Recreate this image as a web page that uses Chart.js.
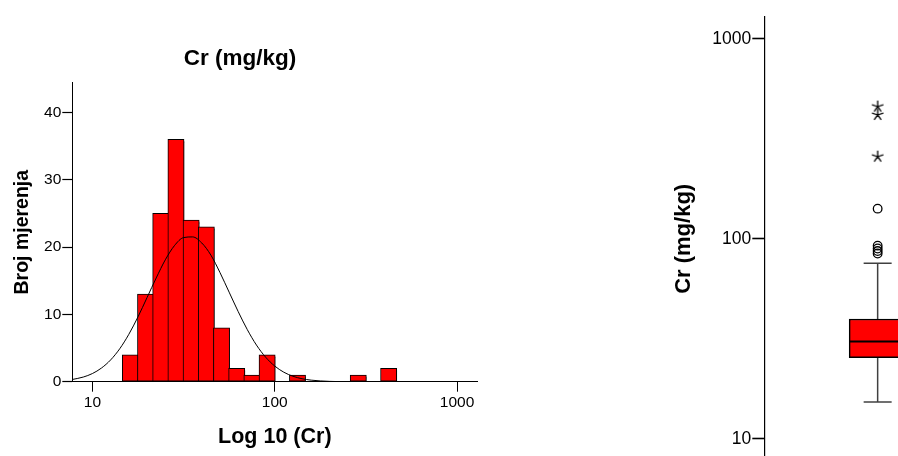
<!DOCTYPE html>
<html>
<head>
<meta charset="utf-8">
<script src="https://cdn.jsdelivr.net/npm/chart.js@4/dist/chart.umd.min.js"></script>
<style>
  html, body { margin: 0; padding: 0; background: #fff; overflow: hidden; width: 898px; height: 456px; }
  #histChart { position: absolute; left: 0; top: 0; }
  #boxChart { position: absolute; left: 640px; top: 0; }
</style>
</head>
<body>
<canvas id="histChart" width="480" height="456"></canvas>
<canvas id="boxChart" width="380" height="470"></canvas>
<script>
// histogram bins (log10 of lower edge), bin width 1/12 decade
const binLow = [1.1667, 1.25, 1.3333, 1.4167, 1.5, 1.5833, 1.6667, 1.75, 1.8333, 1.9167, 2.0833, 2.4167, 2.5833];
const binCounts = [4, 13, 25, 36, 24, 23, 8, 2, 1, 4, 1, 1, 2];
const binWidth = 1 / 12;

// normal curve (log10 x, count)
const curveLog = [0.89, 0.95, 1.0, 1.05, 1.1, 1.15, 1.2, 1.25, 1.3, 1.35, 1.4, 1.45, 1.5, 1.55, 1.6, 1.65, 1.7, 1.75, 1.8, 1.85, 1.9, 1.95, 2.0, 2.05, 2.1, 2.15, 2.2, 2.3, 2.4, 2.6];
const curveVals = [0.33, 0.69, 1.21, 2.03, 3.23, 4.89, 7.04, 9.62, 12.5, 15.4, 18.1, 20.2, 21.4, 21.5, 20.6, 18.8, 16.2, 13.3, 10.4, 7.72, 5.44, 3.65, 2.33, 1.41, 0.81, 0.44, 0.23, 0.05, 0.01, 0];

const histXTicks = [10, 100, 1000];
const histYTicks = [0, 10, 20, 30, 40];
const axisMin = 7.76, axisMax = 1292;

// box plot (mg/kg)
const boxLabels = ['Cr'];
const whiskerLow = 15.3, q1 = 25.5, median = 30.7, q3 = 39.8, whiskerHigh = 75.6;
const outlierCircles = [141.8, 92.6, 89.6, 87.0, 84.6];
const outlierStars = [258, 417, 459];
const boxYTicks = [10, 100, 1000];

Chart.defaults.font.family = "'Liberation Sans', Arial, sans-serif";
Chart.defaults.color = '#000';

const barShadow = {
  id: 'barShadow',
  beforeDatasetDraw(chart, args) {
    if (chart.data.datasets[args.index].type !== 'bar') return;
    const ctx = chart.ctx;
    ctx.save();
    ctx.shadowColor = 'rgba(0,0,0,0.45)';
    ctx.shadowOffsetX = 2;
    ctx.shadowOffsetY = 2;
    ctx.shadowBlur = 0;
  },
  afterDatasetDraw(chart, args) {
    if (chart.data.datasets[args.index].type !== 'bar') return;
    chart.ctx.restore();
  }
};

new Chart(document.getElementById('histChart'), {
  type: 'bar',
  data: {
    datasets: [
      {
        type: 'line',
        data: curveLog.map((l, i) => ({ x: Math.pow(10, l), y: curveVals[i] })),
        borderColor: '#000',
        borderWidth: 1,
        pointRadius: 0,
        cubicInterpolationMode: 'monotone',
        order: 0
      },
      {
        type: 'bar',
        data: binLow.map((l, i) => ({ x: Math.pow(10, l + binWidth / 2), y: binCounts[i] })),
        backgroundColor: '#ff0000',
        borderColor: '#000',
        borderWidth: 1,
        borderSkipped: false,
        barThickness: 16.2,
        order: 1
      }
    ]
  },
  options: {
    responsive: false,
    animation: false,
    layout: { autoPadding: false, padding: { left: 2.7, right: 2.7, top: 0, bottom: 0 } },
    plugins: {
      legend: { display: false },
      tooltip: { enabled: false },
      title: {
        display: true,
        text: 'Cr (mg/kg)',
        color: '#000',
        font: { size: 22.5, weight: 'bold' },
        padding: { top: 45.5, bottom: 10.2 }
      }
    },
    scales: {
      x: {
        type: 'logarithmic',
        min: axisMin,
        max: axisMax,
        offset: false,
        afterBuildTicks: s => { s.ticks = histXTicks.map(v => ({ value: v })); },
        afterFit: s => { s.height = 74.3; },
        ticks: { callback: v => String(v), font: { size: 15.5 }, padding: 1.5, maxRotation: 0, autoSkip: false },
        grid: { offset: false, drawOnChartArea: false, drawTicks: true, tickLength: 10, tickColor: '#000', tickWidth: 1 },
        border: { display: true, color: '#000', width: 1 },
        title: { display: true, text: 'Log 10 (Cr)', font: { size: 21.5, weight: 'bold' }, padding: { top: 0, bottom: 6 } }
      },
      y: {
        type: 'linear',
        min: 0,
        max: 44.4,
        afterBuildTicks: s => { s.ticks = histYTicks.map(v => ({ value: v })); },
        afterFit: s => { s.width = 69.6; },
        ticks: { font: { size: 15.5 }, padding: 1 },
        grid: { drawOnChartArea: false, drawTicks: true, tickLength: 10, tickColor: '#000', tickWidth: 1.2 },
        border: { display: true, color: '#000', width: 1 },
        title: { display: true, text: 'Broj mjerenja', font: { size: 19.5, weight: 'bold' }, padding: { top: 8.1, bottom: 0 } }
      }
    }
  },
  plugins: [barShadow]
});

function makeStar(r, lw) {
  const c = document.createElement('canvas');
  const s = Math.ceil(2 * r + lw + 2);
  c.width = s; c.height = s;
  const g = c.getContext('2d');
  g.strokeStyle = '#000';
  g.lineWidth = lw;
  g.beginPath();
  for (let k = 0; k < 5; k++) {
    const a = -Math.PI / 2 + k * 2 * Math.PI / 5;
    g.moveTo(s / 2, s / 2);
    g.lineTo(s / 2 + r * Math.cos(a), s / 2 + r * Math.sin(a));
  }
  g.stroke();
  return c;
}
const starImg = makeStar(6, 1.3);

new Chart(document.getElementById('boxChart'), {
  type: 'bar',
  data: {
    labels: boxLabels,
    datasets: [
      {
        type: 'line',
        data: [{ x: 'Cr', y: q3 }, { x: 'Cr', y: whiskerHigh }],
        borderColor: '#404040', borderWidth: 1.5, pointRadius: 0, order: 5
      },
      {
        type: 'line',
        data: [{ x: 'Cr', y: q1 }, { x: 'Cr', y: whiskerLow }],
        borderColor: '#404040', borderWidth: 1.5, pointRadius: 0, order: 5
      },
      {
        type: 'line',
        data: [{ x: 'Cr', y: whiskerHigh }, { x: 'Cr', y: whiskerLow }],
        showLine: false,
        pointStyle: 'line', pointRadius: 14, pointBorderWidth: 1.5, pointBorderColor: '#404040',
        order: 4
      },
      {
        type: 'bar',
        data: [[q1, q3]],
        backgroundColor: '#ff0000',
        borderColor: '#000',
        borderWidth: 1.5,
        borderSkipped: false,
        barThickness: 57,
        order: 3
      },
      {
        type: 'line',
        data: [{ x: 'Cr', y: median }],
        showLine: false,
        pointStyle: 'line', pointRadius: 28.5, pointBorderWidth: 2, pointBorderColor: '#000',
        order: 2
      },
      {
        type: 'line',
        data: outlierCircles.map(v => ({ x: 'Cr', y: v })),
        showLine: false,
        pointStyle: 'circle', pointRadius: 4.3, pointBorderWidth: 1.3,
        pointBorderColor: '#000', pointBackgroundColor: 'rgba(0,0,0,0)',
        order: 1
      },
      {
        type: 'line',
        data: outlierStars.map(v => ({ x: 'Cr', y: v })),
        showLine: false,
        pointStyle: starImg, pointRadius: 6,
        order: 0
      }
    ]
  },
  options: {
    responsive: false,
    animation: false,
    layout: { autoPadding: false, padding: { left: 0, right: 29, top: 16.7, bottom: 9 } },
    plugins: { legend: { display: false }, tooltip: { enabled: false } },
    scales: {
      x: { type: 'category', display: false },
      y: {
        type: 'logarithmic',
        min: axisMin,
        max: axisMax,
        afterBuildTicks: s => { s.ticks = boxYTicks.map(v => ({ value: v })); },
        afterFit: s => { s.width = 124.3; s.paddingTop = 0; s.paddingBottom = 0; },
        ticks: { callback: v => String(v), font: { size: 17.5 }, padding: 1 },
        grid: { drawOnChartArea: false, drawTicks: true, tickLength: 12, tickColor: '#000', tickWidth: 1.6 },
        border: { display: true, color: '#000', width: 1.2 },
        title: { display: true, text: 'Cr (mg/kg)', font: { size: 22, weight: 'bold' }, padding: { top: 30.8, bottom: 0 } }
      }
    }
  }
});
</script>
</body>
</html>
